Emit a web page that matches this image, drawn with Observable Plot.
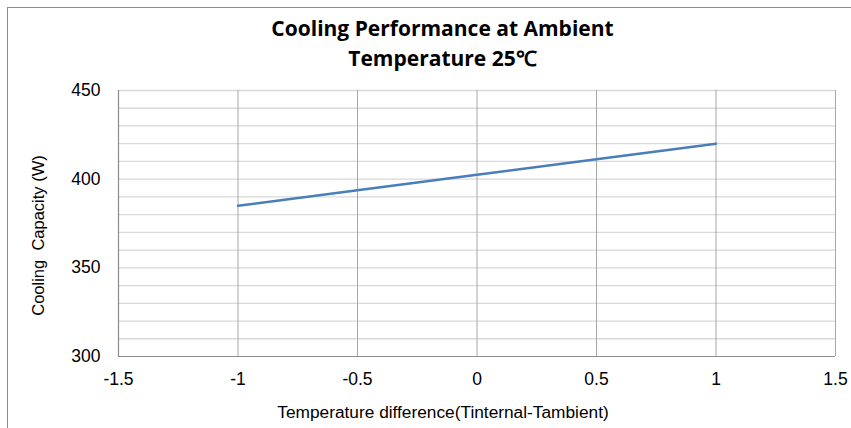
<!DOCTYPE html>
<html>
<head>
<meta charset="utf-8">
<script src="https://cdn.jsdelivr.net/npm/d3@7"></script>
<script src="https://cdn.jsdelivr.net/npm/@observablehq/plot@0.6"></script>
<style>
  html, body { margin: 0; padding: 0; background: #fff; }
  #wrap { position: relative; width: 851px; height: 428px; overflow: hidden; }
  #border { position: absolute; left: 7px; top: 7px; width: 900px; height: 500px;
            border-left: 1px solid #8c8c8c; border-top: 1px solid #8c8c8c; }
  #title { position: absolute; left: 0; width: 885px; top: 13px; text-align: center;
           font-family: "Open Sans", "Liberation Sans", sans-serif; font-weight: bold;
           font-size: 21px; line-height: 30px; color: #000; }
  #chart { position: absolute; left: 0; top: 0; }
</style>
</head>
<body>
<div id="wrap">
  <div id="border"></div>
  <div id="chart"></div>
  <div id="title">Cooling Performance at Ambient<br>Temperature 25℃</div>
</div>
<script>
// Data
const tempDiff = [-1, -0.5, 0, 0.5, 1];
const capacity = [385, 393.7, 402.5, 411.2, 420];

const xTicks = [-1.5, -1, -0.5, 0, 0.5, 1, 1.5];
const yTicks = [300, 350, 400, 450];
const yMinor = [310, 320, 330, 340, 350, 360, 370, 380, 390, 400, 410, 420, 430, 440, 450];

const xTitle = "Temperature difference(Tinternal-Tambient)";
const yTitle = "Cooling  Capacity (W)";

const data = tempDiff.map((t, i) => ({t, c: capacity[i]}));

const chart = Plot.plot({
  width: 851,
  height: 428,
  marginLeft: 118,
  marginRight: 16,
  marginTop: 90,
  marginBottom: 72,
  style: {fontFamily: "'Liberation Sans', Arial, sans-serif", fontSize: "17px", color: "#000", background: "transparent"},
  x: {domain: [-1.5, 1.5]},
  y: {domain: [300, 450]},
  marks: [
    Plot.ruleY(yMinor, {stroke: "#d9d9d9", strokeWidth: 1.3}),
    Plot.ruleX(xTicks, {stroke: "#a6a6a6", strokeWidth: 1}),
    Plot.ruleX([-1.5], {stroke: "#8c8c8c", strokeWidth: 1.2}),
    Plot.ruleY([300], {stroke: "#8c8c8c", strokeWidth: 1.2}),
    Plot.axisX({ticks: xTicks, tickSize: 0, tickPadding: 16, label: null, fontSize: 17.5,
                tickFormat: d => String(d)}),
    Plot.axisY({ticks: yTicks, tickSize: 0, tickPadding: 18, label: null, fontSize: 17.5,
                tickFormat: d => String(d)}),
    Plot.line(data, {x: "t", y: "c", stroke: "#4a7ebb", strokeWidth: 2.5}),
    Plot.text([xTitle], {frameAnchor: "bottom", lineAnchor: "middle", textAnchor: "middle", dy: 56, dx: -34, fontSize: 17.3}),
    Plot.text([yTitle], {frameAnchor: "left", lineAnchor: "middle", textAnchor: "middle", dx: -80, dy: 12, rotate: -90, fontSize: 16.5})
  ]
});
document.getElementById("chart").appendChild(chart);
</script>
</body>
</html>
